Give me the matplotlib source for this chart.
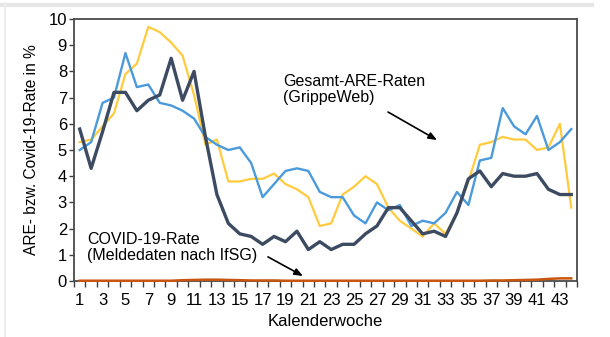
import matplotlib

matplotlib.use("Agg")
import matplotlib.pyplot as plt
import numpy as np

plt.rcParams["font.family"] = ["Liberation Sans", "DejaVu Sans"]

# Kalenderwochen 1..44
weeks = np.arange(1, 45)

# Gesamt-ARE-Raten (GrippeWeb), Saison A (gelb)
are_yellow = [5.3, 5.4, 5.9, 6.4, 7.9, 8.3, 9.7, 9.5, 9.1, 8.6, 7.1, 5.2,
              5.4, 3.8, 3.8, 3.9, 3.9, 4.1, 3.7, 3.5, 3.2, 2.1, 2.2, 3.3,
              3.6, 4.0, 3.7, 2.8, 2.3, 2.0, 1.7, 2.2, 1.8, 2.6, 3.8, 5.2,
              5.3, 5.5, 5.4, 5.4, 5.0, 5.1, 6.0, 2.8]

# Gesamt-ARE-Raten (GrippeWeb), Saison B (blau)
are_blue = [5.0, 5.3, 6.8, 7.0, 8.7, 7.4, 7.5, 6.8, 6.7, 6.5, 6.2, 5.5,
            5.2, 5.0, 5.1, 4.5, 3.2, 3.7, 4.2, 4.3, 4.2, 3.4, 3.2, 3.2,
            2.5, 2.2, 3.0, 2.7, 2.9, 2.1, 2.3, 2.2, 2.6, 3.4, 2.9, 4.6,
            4.7, 6.6, 5.9, 5.6, 6.3, 5.0, 5.3, 5.8]

# Gesamt-ARE-Raten (GrippeWeb), aktuelle Saison (dunkel)
are_dark = [5.8, 4.3, 5.7, 7.2, 7.2, 6.5, 6.9, 7.1, 8.5, 6.9, 8.0, 5.5,
            3.3, 2.2, 1.8, 1.7, 1.4, 1.7, 1.5, 1.9, 1.2, 1.5, 1.2, 1.4,
            1.4, 1.8, 2.1, 2.8, 2.8, 2.3, 1.8, 1.9, 1.7, 2.6, 3.9, 4.2,
            3.6, 4.1, 4.0, 4.0, 4.1, 3.5, 3.3, 3.3]

# COVID-19-Rate (Meldedaten nach IfSG)
covid = [0.01, 0.01, 0.01, 0.01, 0.01, 0.01, 0.01, 0.01, 0.01, 0.03, 0.04, 0.05,
         0.05, 0.04, 0.03, 0.02, 0.02, 0.02, 0.01, 0.01, 0.01, 0.01, 0.01, 0.01,
         0.01, 0.01, 0.01, 0.01, 0.01, 0.01, 0.01, 0.01, 0.01, 0.01, 0.01, 0.01,
         0.02, 0.02, 0.03, 0.04, 0.05, 0.08, 0.10, 0.10]

xtick_weeks = list(range(1, 44, 2))

fig = plt.figure(figsize=(6.1, 3.37), dpi=100, facecolor="white")
ax = fig.add_axes([0.1213, 0.1662, 0.8246, 0.7774])

ax.plot(weeks, are_yellow, color="#FFCB3D", lw=1.6, zorder=3)
ax.plot(weeks, are_blue, color="#4B9ADB", lw=1.7, zorder=4)
ax.plot(weeks, are_dark, color="#3C4B61", lw=2.4, zorder=5)
ax.plot(weeks, covid, color="#C9560F", lw=1.8, zorder=6, clip_on=False)

ax.set_xlim(0.5, 44.5)
ax.set_ylim(0, 10)
ax.set_yticks(range(0, 11))
ax.set_xticks(xtick_weeks)
ax.set_xticks(np.arange(0.5, 45, 1.0), minor=True)
ax.tick_params(axis="x", which="major", length=0, pad=9, labelsize=12)
ax.tick_params(axis="x", which="minor", length=4, width=1.0, color="#404040")
ax.tick_params(axis="y", length=3.5, width=1.0, color="#404040", pad=1.5,
               labelsize=12)

for s in ax.spines.values():
    s.set_color("#4a4a4a")
    s.set_linewidth(1.3)

ax.set_xlabel("Kalenderwoche", fontsize=12, labelpad=4)
ax.set_ylabel("ARE- bzw. Covid-19-Rate in %", fontsize=11.2)
ax.yaxis.set_label_coords(-0.07, 0.5)

ax.text(18.8, 7.9, "Gesamt-ARE-Raten\n(GrippeWeb)", fontsize=11.5,
        va="top", ha="left", linespacing=1.1)
ax.text(1.64, 1.87, "COVID-19-Rate\n(Meldedaten nach IfSG)", fontsize=11.5,
        va="top", ha="left", linespacing=1.1)

arrow = dict(arrowstyle="-|>,head_length=0.5,head_width=0.2", color="black",
             lw=1.2, shrinkA=0, shrinkB=0)
ax.annotate("", xy=(32.26, 5.38), xytext=(27.97, 6.45), arrowprops=arrow)
ax.annotate("", xy=(20.53, 0.19), xytext=(17.47, 0.92), arrowprops=arrow)

# light frame around the figure
fig.add_artist(plt.Line2D([0, 592 / 610], [1 - 5 / 337, 1 - 5 / 337],
                          color="#E6E6E6", lw=3))
fig.add_artist(plt.Line2D([5 / 610, 5 / 610], [0, 1 - 5 / 337],
                          color="#EDEDED", lw=1.5))

fig.savefig("out.png", dpi=100)
